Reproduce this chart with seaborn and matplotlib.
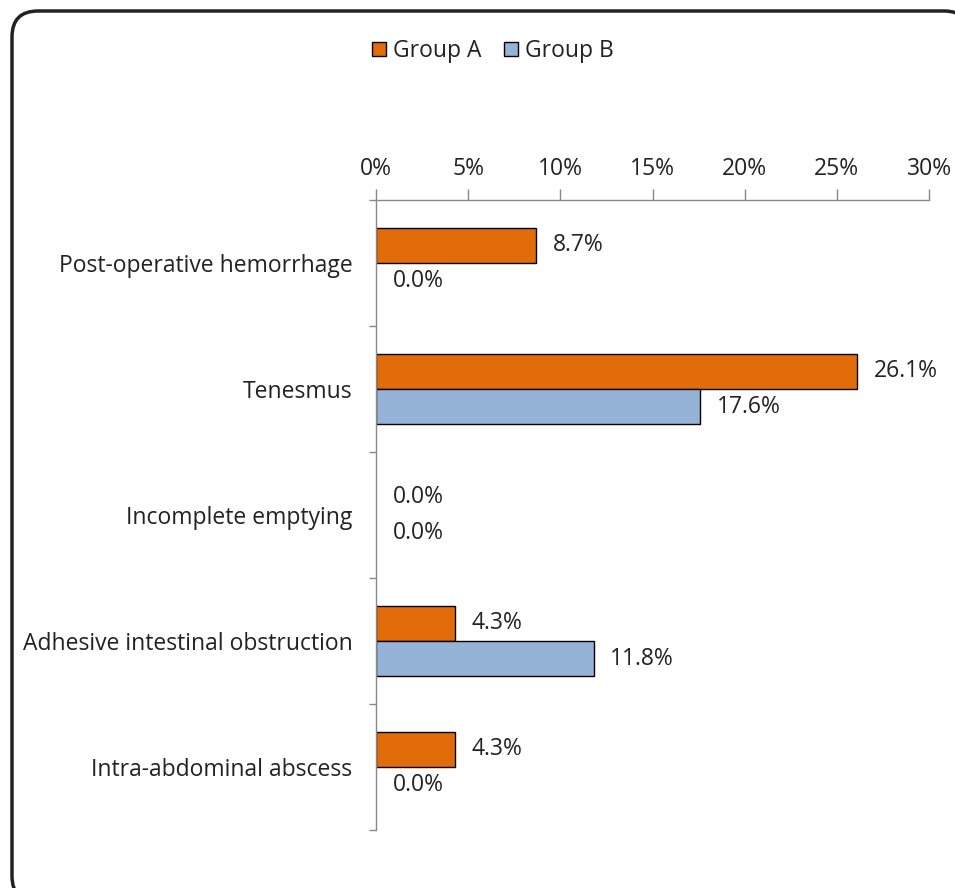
import numpy as np
import pandas as pd
import seaborn as sns
import matplotlib.pyplot as plt
from matplotlib.patches import FancyBboxPatch, Patch
from matplotlib.ticker import FuncFormatter, FixedLocator
from matplotlib.transforms import IdentityTransform

categories = [
    "Post-operative hemorrhage",
    "Tenesmus",
    "Incomplete emptying",
    "Adhesive intestinal obstruction",
    "Intra-abdominal abscess",
]
groups = ["Group A", "Group B"]
group_a = [8.7, 26.1, 0.0, 4.3, 4.3]
group_b = [0.0, 17.6, 0.0, 11.8, 0.0]
x_ticks = [0, 5, 10, 15, 20, 25, 30]

colors = {"Group A": "#E36C0A", "Group B": "#95B3D7"}
FS = 16.5
TEXT = "#222222"

df = pd.DataFrame({
    "category": categories * 2,
    "group": [groups[0]] * len(categories) + [groups[1]] * len(categories),
    "value": group_a + group_b,
})

sns.set_theme(style="white")
plt.rcParams["font.family"] = ["Open Sans", "DejaVu Sans"]

fig = plt.figure(figsize=(9.55, 8.88), dpi=100)

# rounded frame around the chart area (pixel coordinates, origin bottom-left);
# filled white and kept behind the axes so the corner curves are not clipped oddly
border = FancyBboxPatch((12, -14), 970 - 12, 877 + 14,
                        boxstyle="round,pad=0,rounding_size=26",
                        transform=IdentityTransform(), facecolor="white",
                        edgecolor="#222222", linewidth=2.5, zorder=-5)
fig.patches.append(border)

ax = fig.add_axes([376 / 955, 1 - 830 / 888, (929 - 376) / 955, (830 - 200) / 888])
ax.patch.set_alpha(0)

sns.barplot(
    data=df, y="category", x="value", hue="group", order=categories,
    hue_order=groups, palette=colors, orient="y", width=0.56,
    edgecolor="black", linewidth=1.0, ax=ax, legend=False, saturation=1,
)

ax.set_xlim(0, 30)
ax.set_ylim(len(categories) - 0.5, -0.5)
ax.set_xlabel("")
ax.set_ylabel("")

# value labels to the right of each bar; empty bars get no outline
for container in ax.containers:
    for bar in container:
        w = bar.get_width()
        if w == 0:
            bar.set_linewidth(0)
        y = bar.get_y() + bar.get_height() / 2
        ax.annotate(f"{w:.1f}%", xy=(w, y), xytext=(12, 0),
                    textcoords="offset points", va="center", ha="left",
                    fontsize=FS, color=TEXT)

# top percentage axis
ax.xaxis.set_ticks_position("top")
ax.xaxis.set_label_position("top")
ax.set_xticks(x_ticks)
ax.xaxis.set_major_formatter(FuncFormatter(lambda v, p: f"{v:.0f}%"))
ax.tick_params(axis="x", which="major", direction="out", length=8, width=1,
               color="#888888", pad=6, labelsize=FS, labelcolor=TEXT,
               top=True, bottom=False)

# category axis: labels at centres, ticks at boundaries
ax.tick_params(axis="y", which="major", length=0, pad=17, labelsize=FS,
               labelcolor=TEXT)
ax.yaxis.set_minor_locator(FixedLocator(np.arange(-0.5, len(categories), 1.0)))
ax.tick_params(axis="y", which="minor", direction="out", length=5, width=1,
               color="#888888", left=True)

for side in ["right", "bottom"]:
    ax.spines[side].set_visible(False)
for side in ["top", "left"]:
    ax.spines[side].set_visible(True)
    ax.spines[side].set_color("#888888")
    ax.spines[side].set_linewidth(1.0)

handles = [Patch(facecolor=colors[g], edgecolor="black", linewidth=1.0, label=g)
           for g in groups]
fig.legend(handles=handles, loc="center", bbox_to_anchor=(493 / 955, 1 - 51 / 888),
           ncol=2, frameon=False, fontsize=FS, handlelength=0.6,
           handleheight=0.6, handletextpad=0.3, columnspacing=1.0,
           labelcolor=TEXT)

fig.savefig("out.png", dpi=100, facecolor="white")
